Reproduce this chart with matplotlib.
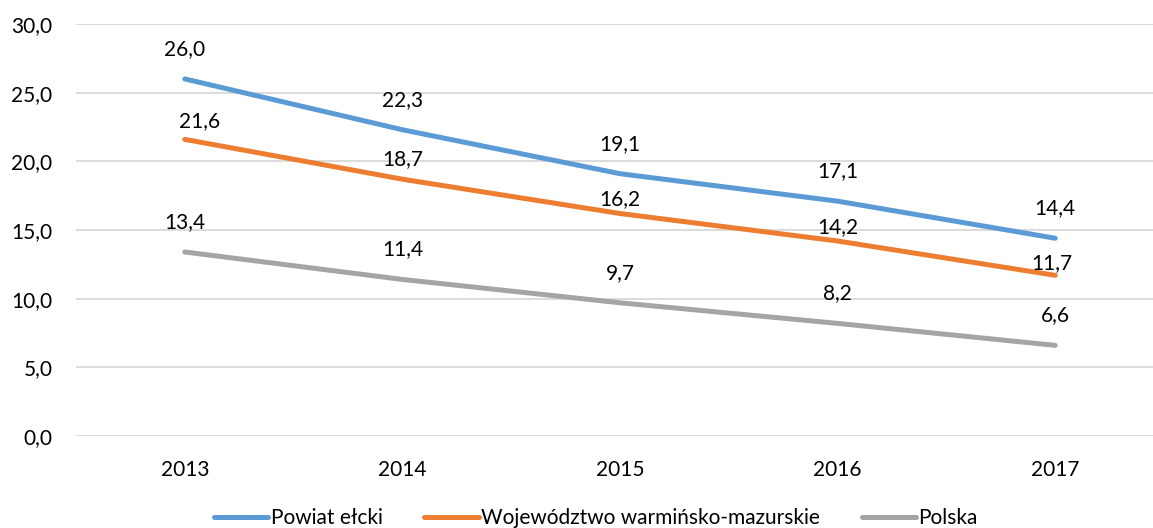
import matplotlib.pyplot as plt

plt.rcParams['font.family'] = ['Lato', 'DejaVu Sans']

years = ['2013', '2014', '2015', '2016', '2017']
powiat = [26.0, 22.3, 19.1, 17.1, 14.4]
wojewodztwo = [21.6, 18.7, 16.2, 14.2, 11.7]
polska = [13.4, 11.4, 9.7, 8.2, 6.6]
names = ['Powiat ełcki', 'Województwo warmińsko-mazurskie', 'Polska']
colors = ['#5B9BD5', '#ED7D31', '#A5A5A5']

# przesunięcia etykiet (piksele) - jak w oryginale z Excela
label_dy = [[30] * 5, [18, 20, 14, 14, 12], [30] * 5]
label_dx = [[0] * 5, [15, 0, 0, 0, -3], [0] * 5]

fig = plt.figure(figsize=(11.53, 5.28), dpi=100)
ax = fig.add_axes([76 / 1153, 1 - 436 / 528, (1164 - 76) / 1153, (436 - 24) / 528])

x = range(len(years))
for i, (vals, name, col) in enumerate(zip([powiat, wojewodztwo, polska], names, colors)):
    ax.plot(x, vals, color=col, lw=3.6, solid_capstyle='round', label=name)
    for j, v in enumerate(vals):
        ax.annotate(f'{v:.1f}'.replace('.', ','), (j, v),
                    xytext=(label_dx[i][j], label_dy[i][j]), textcoords='offset pixels',
                    ha='center', va='center', fontsize=15, color='#000000')

ax.set_xlim(-0.5, 4.5)
ax.set_ylim(0, 30)
ax.set_yticks(range(0, 31, 5))
ax.set_yticklabels([f'{t},0' for t in range(0, 31, 5)])
ax.set_xticks(list(x))
ax.set_xticklabels(years)
ax.tick_params(length=0, labelsize=15, pad=17)
ax.grid(axis='y', color='#D9D9D9', lw=1.3)
ax.set_axisbelow(True)
for s in ax.spines.values():
    s.set_visible(False)

fig.legend(loc='center', bbox_to_anchor=(596 / 1153, 1 - 518 / 528), ncol=3,
           frameon=False, fontsize=15, handlelength=2.6, handletextpad=0.12,
           columnspacing=2.0)

plt.savefig('out.png', dpi=100)
